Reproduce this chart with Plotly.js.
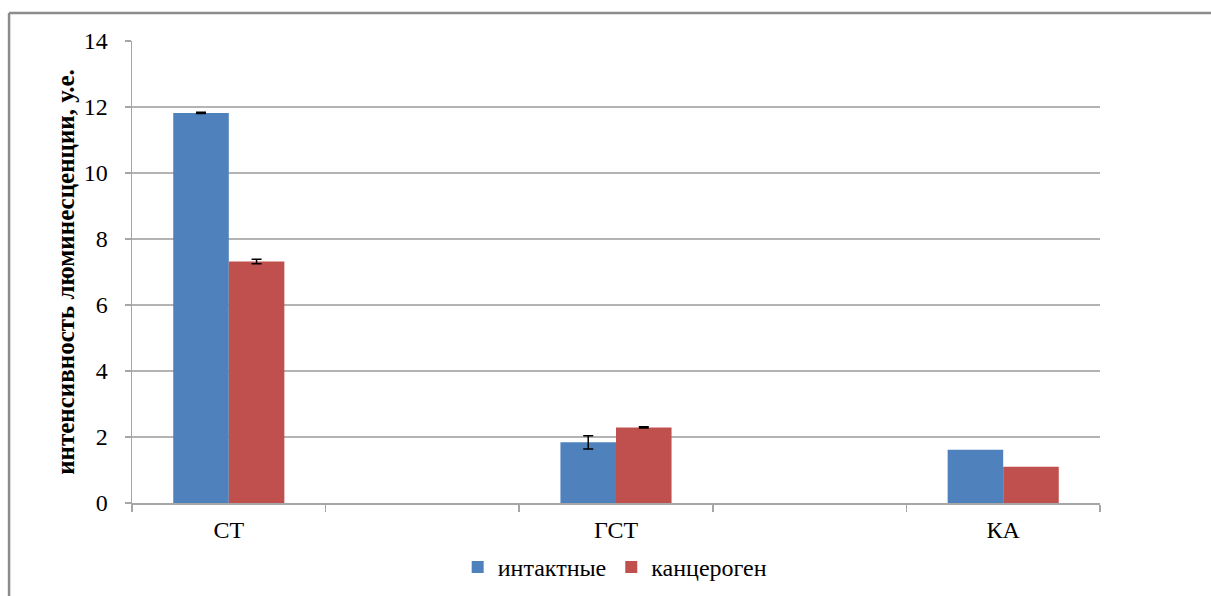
<!DOCTYPE html>
<html>
<head>
<meta charset="utf-8">
<script src="https://cdn.plot.ly/plotly-3.0.1.min.js"></script>
<style>html,body{margin:0;padding:0;background:#fff;}#chart{width:1211px;height:596px;}</style>
</head>
<body>
<div id="chart"></div>
<script>
// Data
const categories = ["СТ", "ГСТ", "КА"];
const seriesNames = ["интактные", "канцероген"];
const intactValues = [11.82, 1.84, 1.61];
const intactErrors = [0.02, 0.2, NaN];      // NaN: no error bar drawn
const carcinogenValues = [7.32, 2.29, 1.10];
const carcinogenErrors = [0.07, 0.02, NaN]; // NaN: no error bar drawn
const yTickValues = [0, 2, 4, 6, 8, 10, 12, 14];

// Category axis with empty spacer slots between the named categories
const axisCats = [];
const axisText = [];
categories.forEach((c, i) => {
  axisCats.push(c); axisText.push(c);
  if (i < categories.length - 1) { axisCats.push("__gap" + i); axisText.push(""); }
});

const serif = "'Liberation Serif', 'Times New Roman', serif";
const errStyle = (arr) => ({type: "data", array: arr, visible: true, color: "#000", thickness: 1.5, width: 5});

const traces = [
  {type: "bar", name: seriesNames[0], x: categories, y: intactValues,
   marker: {color: "#4F81BD"}, error_y: errStyle(intactErrors)},
  {type: "bar", name: seriesNames[1], x: categories, y: carcinogenValues,
   marker: {color: "#C0504D"}, error_y: errStyle(carcinogenErrors)}
];

const layout = {
  width: 1211, height: 596,
  margin: {l: 132, r: 111, t: 41, b: 92.5},
  paper_bgcolor: "#fff", plot_bgcolor: "#fff",
  barmode: "group", bargap: 0.426, bargroupgap: 0,
  font: {family: serif, color: "#000", size: 22},
  showlegend: true,
  legend: {orientation: "h", xref: "container", x: 0.508, xanchor: "center",
           yref: "container", y: 0.048, yanchor: "middle",
           font: {family: serif, size: 24, color: "#000"}, itemwidth: 30, traceorder: "normal"},
  xaxis: {type: "category", categoryorder: "array", categoryarray: axisCats,
          tickvals: axisCats, ticktext: axisText, tickson: "boundaries",
          showgrid: false, showline: true, linecolor: "#a6a6a6", linewidth: 1.5,
          ticks: "outside", ticklen: 7, tickcolor: "#a6a6a6", tickwidth: 1.5,
          tickfont: {family: serif, size: 24, color: "#000"}, ticklabelstandoff: 5, zeroline: false,
          automargin: false, range: [-0.5, axisCats.length - 0.5], fixedrange: true},
  yaxis: {range: [0, 14], tickvals: yTickValues, ticktext: yTickValues.map(String),
          showgrid: true, gridcolor: "#b3b3b3", gridwidth: 1.5,
          showline: true, linecolor: "#a6a6a6", linewidth: 1.5,
          ticks: "outside", ticklen: 6, tickcolor: "#a6a6a6", tickwidth: 1.5,
          tickfont: {family: serif, size: 24, color: "#000"}, ticklabelstandoff: 12, zeroline: false,
          automargin: false,
          title: {text: "<b>интенсивность люминесценции, у.е.</b>", font: {family: serif, size: 25, color: "#000"}, standoff: 2}},
  shapes: [
    {type: "line", xref: "paper", yref: "paper", x0: -0.127, x1: 1.2, y0: 1.0605, y1: 1.0605,
     line: {color: "#8c8c8c", width: 2.5}},
    {type: "line", xref: "paper", yref: "paper", x0: -0.127, x1: -0.127, y0: 1.0605, y1: -0.3,
     line: {color: "#8c8c8c", width: 2.5}}
  ]
};

Plotly.newPlot("chart", traces, layout, {displayModeBar: false, staticPlot: true});
</script>
</body>
</html>
